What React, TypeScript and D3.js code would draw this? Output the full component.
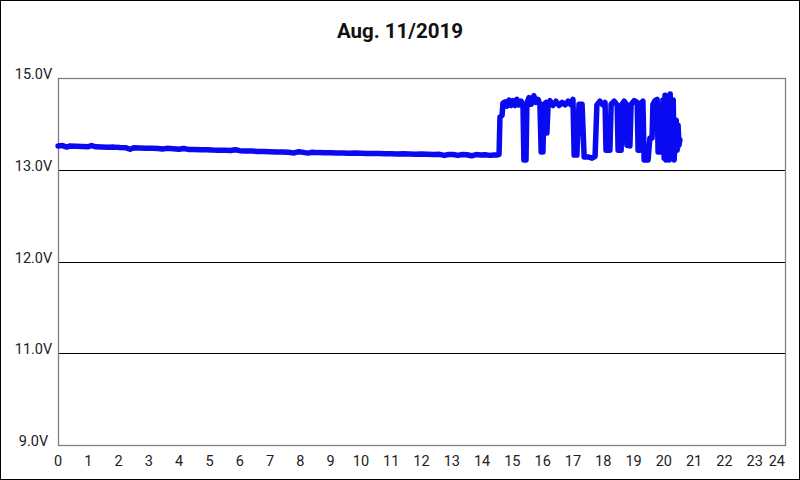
import React, { useEffect } from "react";
import * as d3 from "d3";

const title = "Aug. 11/2019";

// y gridlines and the labels printed next to them
const voltTicks = [9, 10.5, 12, 13.5, 15];
const voltLabels = ["9.0V", "11.0V", "12.0V", "13.0V", "15.0V"];

const hourTicks = [0, 1, 2, 3, 4, 5, 6, 7, 8, 9, 10, 11, 12, 13, 14, 15, 16, 17, 18, 19, 20, 21, 22, 23, 24];

// [hour, volts] while resting
const resting: [number, number][] = [
  [0.0, 13.89], [0.15, 13.895], [0.29, 13.87], [0.4, 13.89], [0.6, 13.885],
  [0.8, 13.882], [1.0, 13.878], [1.11, 13.895], [1.25, 13.875], [1.45, 13.872],
  [1.65, 13.868], [1.85, 13.87], [2.05, 13.862], [2.25, 13.858], [2.38, 13.835],
  [2.5, 13.86], [2.7, 13.856], [2.9, 13.852], [3.1, 13.85], [3.3, 13.848],
  [3.45, 13.838], [3.6, 13.85], [3.8, 13.845], [4.0, 13.835], [4.15, 13.848],
  [4.3, 13.833], [4.5, 13.83], [4.7, 13.826], [4.9, 13.828], [5.1, 13.822],
  [5.3, 13.82], [5.5, 13.818], [5.7, 13.815], [5.85, 13.828], [6.0, 13.812],
  [6.2, 13.808], [6.4, 13.805], [6.6, 13.8], [6.8, 13.798], [7.0, 13.795],
  [7.2, 13.792], [7.4, 13.79], [7.6, 13.786], [7.8, 13.775], [7.95, 13.795],
  [8.1, 13.784], [8.25, 13.772], [8.4, 13.786], [8.6, 13.78], [8.8, 13.778],
  [9.0, 13.776], [9.2, 13.774], [9.4, 13.772], [9.6, 13.77], [9.8, 13.772],
  [10.0, 13.768], [10.2, 13.766], [10.4, 13.764], [10.6, 13.766], [10.8, 13.762],
  [11.0, 13.76], [11.2, 13.758], [11.4, 13.76], [11.6, 13.756], [11.8, 13.754],
  [12.0, 13.756], [12.2, 13.752], [12.4, 13.75], [12.6, 13.752], [12.75, 13.735],
  [12.9, 13.75], [13.05, 13.748], [13.2, 13.735], [13.35, 13.75], [13.5, 13.745],
  [13.65, 13.728], [13.8, 13.748], [13.95, 13.74], [14.1, 13.745], [14.25, 13.735],
  [14.4, 13.742],
];

// [hour, volts] once charging kicks in
const charging: [number, number][] = [
  [14.49, 13.74], [14.56, 13.75], [14.59, 14.36], [14.66, 14.39], [14.69, 14.59],
  [14.76, 14.61], [14.82, 14.54], [14.89, 14.64], [14.96, 14.55], [15.02, 14.63],
  [15.09, 14.55], [15.15, 14.65], [15.22, 14.56], [15.29, 14.62], [15.35, 14.56],
  [15.38, 13.66], [15.45, 13.66], [15.48, 14.59], [15.55, 14.68], [15.62, 14.57],
  [15.68, 14.65], [15.71, 14.71], [15.78, 14.6], [15.85, 14.65], [15.91, 14.56],
  [15.95, 13.79], [16.01, 13.79], [16.04, 14.57], [16.11, 14.6], [16.14, 14.1],
  [16.18, 14.57], [16.24, 14.63], [16.34, 14.55], [16.44, 14.62], [16.54, 14.55],
  [16.64, 14.6], [16.74, 14.56], [16.84, 14.62], [16.94, 14.56], [17.0, 14.65],
  [17.04, 13.74], [17.13, 13.74], [17.2, 14.57], [17.3, 14.57], [17.37, 13.71],
  [17.5, 13.71], [17.63, 13.69], [17.73, 13.72], [17.79, 14.56], [17.89, 14.62],
  [17.99, 14.56], [18.06, 14.6], [18.09, 13.82], [18.22, 13.82], [18.26, 14.57],
  [18.36, 14.62], [18.46, 14.56], [18.49, 13.82], [18.59, 13.82], [18.62, 14.57],
  [18.69, 14.62], [18.75, 14.58], [18.78, 13.9], [18.88, 13.89], [18.92, 14.57],
  [19.02, 14.63], [19.12, 14.6], [19.15, 13.82], [19.21, 13.82], [19.25, 14.59],
  [19.31, 14.62], [19.35, 13.66], [19.48, 13.66], [19.54, 14.02], [19.61, 14.02],
  [19.64, 14.57], [19.71, 14.63], [19.78, 14.65], [19.81, 13.79], [19.91, 13.79],
  [19.97, 14.64], [20.01, 13.69], [20.04, 14.72], [20.07, 13.66], [20.14, 14.56],
  [20.17, 13.66], [20.21, 14.74], [20.24, 13.69], [20.31, 14.64], [20.34, 13.66],
  [20.41, 14.31], [20.44, 13.82], [20.47, 14.23], [20.5, 13.9], [20.53, 13.99],
];

const W = 800;
const H = 480;
const margin = { top: 78, right: 15, bottom: 35, left: 58 };

export default function App() {
  useEffect(() => {
    document.body.style.margin = "0";
  }, []);

  const x = d3.scaleLinear().domain([0, 24]).range([margin.left, W - margin.right]);
  const y = d3.scaleLinear().domain([9, 15]).range([H - margin.bottom, margin.top]);

  const line = d3
    .line<[number, number]>()
    .x((d) => x(d[0]))
    .y((d) => y(d[1]));

  const path = line([...resting, ...charging]) || "";
  const font = "Roboto, 'Noto Sans', sans-serif";

  return (
    <svg width={W} height={H} style={{ display: "block", fontFamily: font }}>
      <rect x={0.5} y={0.5} width={W - 1} height={H - 1} fill="#fff" stroke="#000" />

      <text x={W / 2} y={38} textAnchor="middle" fontSize={20.5} fontWeight="bold" fill="#111">
        {title}
      </text>

      {/* inner gridlines */}
      {voltTicks.slice(1, -1).map((t) => (
        <line key={t} x1={x(0)} x2={x(24)} y1={Math.round(y(t)) + 0.5} y2={Math.round(y(t)) + 0.5} stroke="#000" />
      ))}

      {/* plot frame */}
      <rect
        x={x(0) + 0.5}
        y={y(15) + 0.5}
        width={x(24) - x(0)}
        height={y(9) - y(15)}
        fill="none"
        stroke="#808080"
        strokeWidth={1.3}
      />

      {voltTicks.map((t, i) => (
        <text key={t} x={33.5} y={Math.round(y(t)) + 1} textAnchor="middle" fontSize={14.5} fill="#222">
          {voltLabels[i]}
        </text>
      ))}

      {hourTicks.map((h, i) => (
        <text
          key={h}
          x={x(h)}
          y={466}
          textAnchor={i === hourTicks.length - 1 ? "end" : "middle"}
          fontSize={14.5}
          fill="#222"
        >
          {h}
        </text>
      ))}

      <path d={path} fill="none" stroke="#0a0af0" strokeWidth={5.5} strokeLinejoin="round" strokeLinecap="round" />
    </svg>
  );
}
